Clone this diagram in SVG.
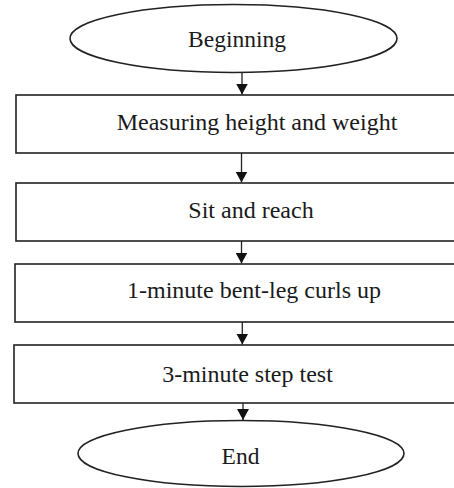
<svg xmlns="http://www.w3.org/2000/svg" width="454" height="488" viewBox="0 0 454 488">
<style>
.shape{fill:#fff;stroke:#222;stroke-width:1.6}
.lbl{font-family:'Liberation Serif','Times New Roman',Times,serif;font-size:24px;fill:#1a1a1a;text-anchor:middle}
.ell{font-size:23.5px}
.conn line{stroke:#222;stroke-width:1.3}
</style>
<defs>
<marker id="ah" markerWidth="11" markerHeight="12" refX="11" refY="6" orient="auto" markerUnits="userSpaceOnUse">
<path d="M0,0 L11,6 L0,12 Z" fill="#111"/>
</marker>
</defs>
<rect width="454" height="488" fill="#fff"/>
<g id="beginning">
<ellipse class="shape" cx="233.5" cy="38.5" rx="163.5" ry="34"/>
<text class="lbl ell" x="237" y="47">Beginning</text>
</g>
<g id="measuring">
<rect class="shape" x="16" y="95" width="450" height="58"/>
<text class="lbl" x="257" y="130">Measuring height and weight</text>
</g>
<g id="sit-reach">
<rect class="shape" x="16" y="183" width="450" height="58"/>
<text class="lbl" x="251" y="218">Sit and reach</text>
</g>
<g id="curls">
<rect class="shape" x="15" y="264" width="450" height="58"/>
<text class="lbl" x="254" y="298">1-minute bent-leg curls up</text>
</g>
<g id="step-test">
<rect class="shape" x="14" y="345" width="450" height="58"/>
<text class="lbl" x="247.5" y="381.5">3-minute step test</text>
</g>
<g id="end">
<ellipse class="shape" cx="241" cy="453.5" rx="163" ry="33"/>
<text class="lbl ell" x="240.5" y="464">End</text>
</g>
<g class="conn" id="connectors">
<line x1="242" y1="73" x2="242" y2="94.5" marker-end="url(#ah)"/>
<line x1="241.5" y1="153" x2="241.5" y2="182.5" marker-end="url(#ah)"/>
<line x1="241.5" y1="241" x2="241.5" y2="263.5" marker-end="url(#ah)"/>
<line x1="242.3" y1="322" x2="242.3" y2="344.5" marker-end="url(#ah)"/>
<line x1="243" y1="403" x2="243" y2="420" marker-end="url(#ah)"/>
</g>
</svg>
